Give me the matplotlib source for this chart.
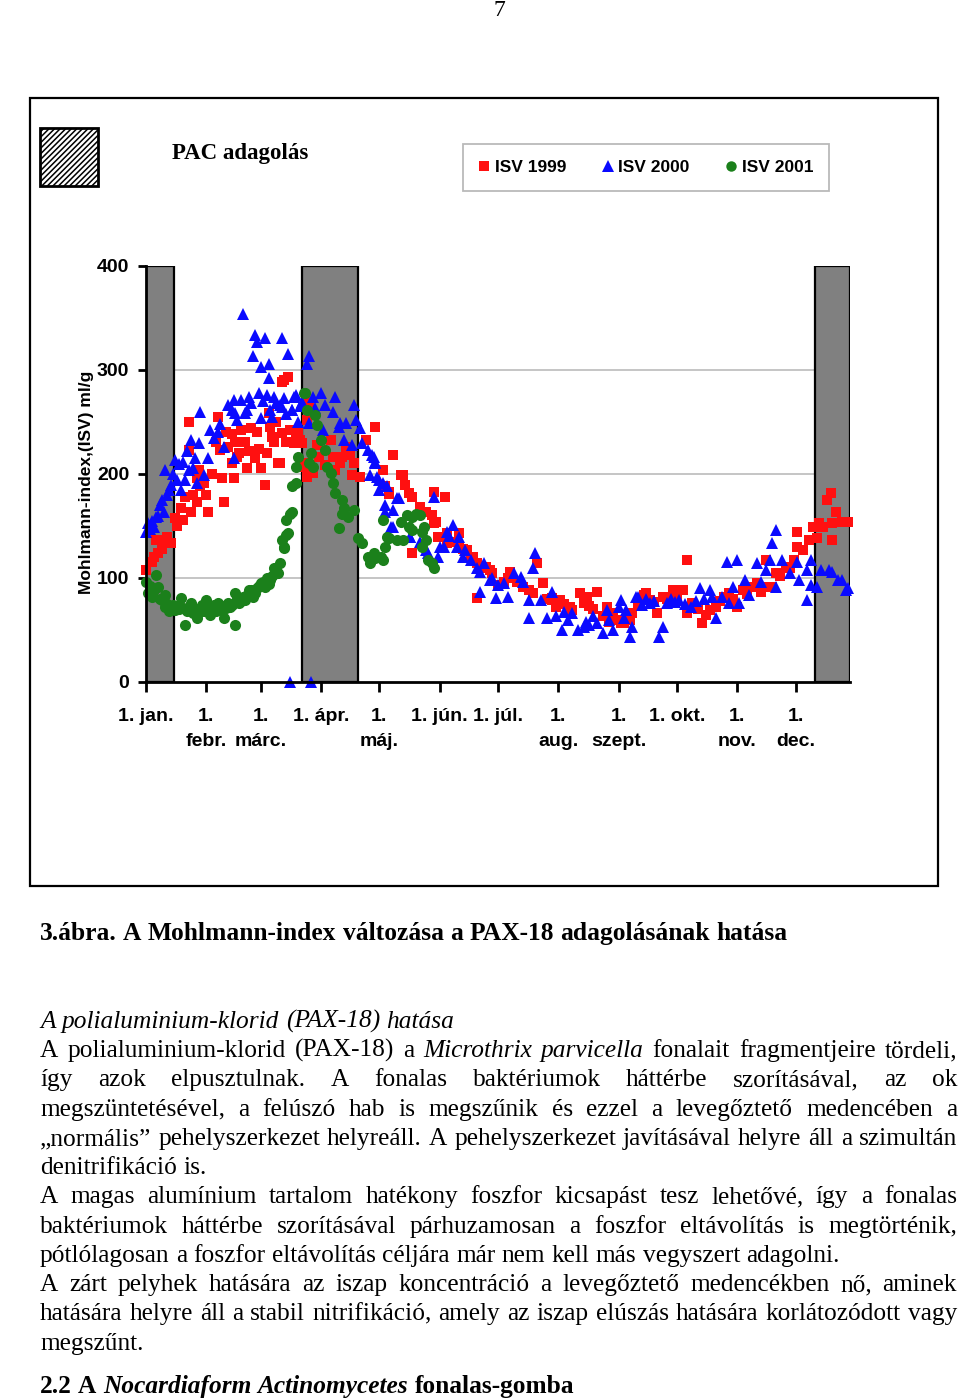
import matplotlib
matplotlib.use("Agg")
import matplotlib.pyplot as plt
from matplotlib.patches import Rectangle
from matplotlib.lines import Line2D

# ---------------- data ----------------
month_days = [0, 31, 59, 90, 120, 151, 181, 212, 243, 273, 304, 334]
month_labels = ["1. jan.", "1.\nfebr.", "1.\nmárc.", "1. ápr.", "1.\nmáj.", "1. jún.",
                "1. júl.", "1.\naug.", "1.\nszept.", "1. okt.", "1.\nnov.", "1.\ndec."]
y_ticks = [0, 100, 200, 300, 400]
pac_periods = [(0, 14.5), (80, 109), (344, 362)]
series_labels = ["ISV 1999", "ISV 2000", "ISV 2001"]

isv1999_day = [0, 3, 6, 5, 10, 13, 11, 15, 19, 18, 23, 26, 31, 32, 40, 22, 22, 26, 27, 30, 36, 37, 38, 39, 42,
               44, 45, 46, 47, 49, 51, 52, 56, 54, 57, 59, 61, 63, 65, 68, 66, 70, 72, 75, 77, 78, 80, 82, 71,
               73, 70, 34, 41, 48, 58, 62, 64, 67, 44, 53, 28, 16, 8, 4, 20, 24,
               84, 83, 81, 83, 86, 89, 95, 96, 100, 101, 103, 107, 106, 110, 113, 118, 127, 132, 133, 135,
               137, 141, 148, 154, 144, 148, 150, 155, 88, 92, 97, 105, 69, 76, 74, 79, 123, 125, 131, 122,
               125, 137,
               147, 149, 155, 161, 167, 170, 170, 175, 178, 187, 184, 191, 194, 201, 204, 199, 209, 213, 218,
               223, 227, 232, 225, 219, 235, 238, 153, 161, 165, 168, 177, 209, 237, 244, 249, 240, 242, 246,
               228, 230, 215, 211, 206, 197, 186, 181, 173, 163, 158,
               250, 257, 259, 263, 271, 276, 278, 278, 286, 290, 293, 297, 300, 304, 307, 312, 317, 319, 322,
               324, 329, 333, 335, 335, 338, 341, 343, 346, 350, 352, 348, 353, 355, 353, 358, 361, 345,
               253, 256, 261, 266, 268, 273, 281, 284, 288, 295, 302, 309, 314, 316, 326, 331]
isv1999_val = [108, 115, 124, 137, 137, 134, 139, 158, 156, 167, 163, 173, 180, 163, 173, 223, 250, 196, 204,
               191, 231, 255, 223, 196, 226, 211, 196, 231, 216, 242, 231, 206, 215, 244, 240, 206, 189, 259,
               236, 211, 231, 239, 231, 242, 233, 240, 230, 207, 290, 293, 288, 200, 240, 220, 224, 220, 245,
               250, 238, 222, 188, 150, 128, 120, 178, 180,
               269, 252, 211, 197, 201, 216, 233, 216, 211, 216, 226, 211, 199, 197, 233, 245, 218, 199, 189,
               182, 178, 168, 183, 178, 163, 153, 139, 143, 228, 209, 204, 218, 211, 230, 242, 233, 188, 181,
               199, 204, 183, 124,
               161, 154, 134, 129, 120, 114, 81, 111, 105, 106, 96, 96, 91, 114, 95, 86, 81, 79, 72, 86, 82,
               87, 76, 69, 63, 58, 139, 143, 127, 120, 108, 79, 72, 57, 60, 66, 60, 57, 73, 70, 75, 72, 80,
               88, 100, 93, 110, 128, 135,
               66, 86, 79, 66, 88, 88, 117, 66, 57, 69, 72, 82, 86, 72, 88, 91, 91, 117, 91, 105, 111, 117,
               144, 130, 127, 137, 149, 153, 175, 182, 149, 153, 163, 137, 154, 154, 138,
               75, 84, 77, 82, 80, 83, 76, 70, 64, 78, 80, 85, 95, 87, 102, 110]

isv2000_day = [0, 1, 4, 5, 7, 9, 11, 13, 15, 10, 16, 18, 20, 22, 23, 24, 26, 28, 30, 32, 33, 37, 40, 42, 46,
               47, 45, 49, 51, 53, 58, 62, 66, 69, 71, 65, 59, 75, 77, 78, 45,
               2, 3, 6, 8, 12, 14, 17, 19, 21, 25, 27, 35, 38, 44, 52, 54, 60, 64, 67, 72, 79,
               50, 56, 57, 61, 70, 55, 59, 63, 63, 73, 84, 83,
               76, 80, 70, 75, 86, 90, 97, 87, 92, 96, 107, 84, 100, 103, 99, 108, 110, 91, 102, 106, 111,
               114, 116, 118, 115, 119, 120, 122, 120, 124, 130, 123, 127, 123, 126, 136, 141, 144, 148,
               150, 153, 155,
               74, 85,
               117, 118, 129, 127, 136, 145, 151, 158, 161, 164, 167, 172, 174, 172, 177, 181, 180, 186, 189,
               193, 194, 200, 199, 197, 203, 209, 211, 206, 215, 214, 222, 225, 230, 235, 237, 240, 243, 197,
               249, 244, 247, 252, 217, 219, 226, 228, 232, 238, 246, 184, 178, 170, 163, 160, 156,
               250, 253, 259, 264, 266, 268, 274, 280, 285, 290, 291, 293, 299, 304, 300, 302, 305, 308, 310,
               314, 316, 319, 321, 322, 324, 324, 327, 331, 335, 336, 340, 340, 342, 342, 345, 347, 351, 353,
               356, 358, 361, 360, 255, 257, 261, 270, 272, 277, 283, 287, 296]
isv2000_val = [144, 153, 149, 159, 170, 163, 180, 189, 213, 204, 194, 185, 194, 204, 233, 206, 191, 260, 199,
               215, 242, 240, 226, 266, 259, 252, 271, 271, 259, 274, 278, 276, 274, 266, 273, 255, 254, 262,
               276, 250, 215,
               147, 155, 160, 175, 185, 200, 210, 212, 222, 215, 230, 235, 248, 262, 262, 268, 270, 262, 268,
               258, 265,
               354, 334, 327, 331, 331, 313, 303, 306, 292, 315, 313, 306,
               274, 269, 264, 262, 274, 278, 274, 263, 266, 260, 266, 249, 249, 249, 245, 252, 244, 242, 233,
               228, 230, 223, 218, 211, 199, 197, 194, 191, 185, 188, 177, 170, 165, 163, 149, 139, 135, 127,
               178, 120, 130, 144,
               0, 0,
               216, 212, 177, 149, 139, 124, 130, 151, 139, 127, 117, 106, 114, 87, 98, 93, 81, 82, 105, 101,
               96, 124, 110, 79, 79, 87, 63, 62, 67, 50, 50, 53, 63, 47, 69, 50, 72, 62, 43, 79, 69, 82, 60,
               66, 58, 55, 57, 60, 62, 95, 100, 110, 120, 130, 140,
               53, 82, 76, 43, 53, 76, 79, 72, 90, 88, 82, 62, 115, 117, 76, 91, 76, 98, 84, 114, 96, 108,
               117, 134, 146, 91, 117, 105, 115, 98, 108, 79, 117, 93, 91, 108, 108, 106, 98, 98, 90, 88, 74,
               80, 78, 80, 77, 75, 78, 80, 82]

isv2001_day = [0, 1, 5, 6, 3, 8, 10, 10, 13, 15, 18, 19, 20, 23, 24, 26, 28, 31, 33, 33, 37, 40, 41, 43, 46,
               46, 48, 51, 53, 56, 59, 61, 64, 66, 68, 69, 71, 73, 70, 74, 72, 75, 77, 77, 78, 81,
               2, 4, 7, 9, 11, 12, 14, 16, 17, 21, 22, 25, 27, 29, 30, 32, 34, 35, 36, 38, 39, 42, 44, 47, 49,
               50, 52, 54, 55, 57, 58, 60, 62, 63, 65, 67,
               82, 83, 87, 88, 90, 92, 85, 84, 86, 93, 95, 96, 97, 101, 102, 101, 104, 107, 99, 75, 72, 71,
               109, 111, 114, 115, 118, 121, 123, 125, 129, 122, 131, 134, 137, 139, 135, 137, 142, 144, 142,
               147, 148, 145, 117, 122, 124, 132, 141, 143]
isv2001_val = [96, 86, 103, 91, 82, 79, 84, 72, 72, 69, 81, 71, 55, 76, 66, 62, 69, 79, 69, 64, 76, 62, 71, 72,
               86, 55, 76, 79, 88, 86, 95, 91, 98, 110, 105, 114, 129, 143, 137, 162, 156, 188, 191, 207, 216,
               278,
               92, 88, 80, 78, 75, 68, 74, 73, 70, 68, 72, 70, 67, 74, 68, 72, 70, 74, 68, 70, 73, 76, 74, 80,
               78, 82, 84, 88, 82, 90, 92, 96, 100, 94, 102, 108,
               278, 262, 257, 247, 233, 223, 220, 211, 207, 207, 201, 191, 182, 175, 167, 162, 159, 165, 148,
               163, 141, 130, 138, 134, 120, 114, 119, 120, 130, 138, 137, 156, 154, 161, 159, 162, 149, 146,
               144, 137, 130, 114, 110, 117, 124, 117, 139, 137, 161, 149]

# ---------------- figure ----------------
W, H = 960, 1400
plt.rcParams['hatch.linewidth'] = 1.1
fig = plt.figure(figsize=(W / 100, H / 100), dpi=100)
fig.patch.set_facecolor('white')


def fx(x):
    return x / W


def fy(y):
    return 1 - y / H


SANS = ['Liberation Sans', 'DejaVu Sans']
SERIF = ['Liberation Serif', 'DejaVu Serif']

# page number
fig.text(fx(499), fy(11), "7", family=SERIF, fontsize=17, ha='center', va='center')

# outer frame
fig.patches.append(Rectangle((fx(30), fy(886)), fx(908), (886 - 98) / H, transform=fig.transFigure,
                             fill=False, edgecolor='black', lw=1.6))

# hatched PAC key
fig.patches.append(Rectangle((fx(40), fy(186)), fx(58), 58 / H, transform=fig.transFigure,
                             facecolor='white', edgecolor='black', hatch='//////', lw=2))
fig.text(fx(172), fy(153), "PAC adagolás", family=SERIF, weight='bold', fontsize=16.5,
         ha='left', va='center')

# ---------------- chart ----------------
ax = fig.add_axes([fx(146), fy(682), fx(704), 416 / H])
ax.set_xlim(0, 362)
ax.set_ylim(0, 400)
for v in y_ticks[1:-1]:
    ax.axhline(v, color='#c0c0c0', lw=1.3, zorder=0.5)
for a, b in pac_periods:
    ax.axvspan(a, b, facecolor='#808080', edgecolor='black', lw=1.6, zorder=1)

red, blue, green = '#ff1010', '#0a0aff', '#1b801b'
ax.plot(isv1999_day, isv1999_val, 's', color=red, ms=7.8, mew=0, zorder=3, clip_on=False)
ax.plot(isv2000_day, isv2000_val, '^', color=blue, ms=8.8, mew=0, zorder=4, clip_on=False)
ax.plot(isv2001_day, isv2001_val, 'o', color=green, ms=8.0, mew=0, zorder=5, clip_on=False)

for s in ['top', 'right']:
    ax.spines[s].set_visible(False)
for s in ['left', 'bottom']:
    ax.spines[s].set_linewidth(2)
    ax.spines[s].set_zorder(6)

ax.set_xticks(month_days)
ax.set_xticklabels(month_labels, fontfamily=SANS, fontweight='bold', fontsize=14)
for lbl in ax.get_xticklabels():
    lbl.set_linespacing(1.55)
ax.set_yticks(y_ticks)
ax.set_yticklabels([str(v) for v in y_ticks], fontfamily=SANS, fontweight='bold', fontsize=14)
ax.tick_params(axis='x', direction='out', length=7, width=2, pad=12)
ax.tick_params(axis='y', direction='out', length=6, width=2, pad=6)
ax.set_ylabel("Mohlmann-index,(ISV) ml/g", fontfamily=SANS, fontweight='bold', fontsize=12.5, va='center')
ax.yaxis.set_label_coords((87 - 146) / 704, (682 - 482) / 416)

handles = [Line2D([], [], ls='', marker='s', color=red, ms=7.5, mew=0),
           Line2D([], [], ls='', marker='^', color=blue, ms=8.5, mew=0),
           Line2D([], [], ls='', marker='o', color=green, ms=7.5, mew=0)]
leg = fig.legend(handles, series_labels, loc='center', bbox_to_anchor=(fx(646), fy(167.5)), ncol=3,
                 frameon=True, fancybox=False, edgecolor='#a8a8a8',
                 prop={'family': SANS, 'weight': 'bold', 'size': 12.5},
                 handlelength=0.6, handletextpad=0.3, columnspacing=2.1, borderpad=0.9)
leg.get_frame().set_linewidth(1.3)

# ---------------- text below ----------------
renderer = fig.canvas.get_renderer()


def measure(s, **kw):
    t = fig.text(0, 0, s, **kw)
    w = t.get_window_extent(renderer).width
    t.remove()
    return w


def fit_size(s, target, **kw):
    w = measure(s, fontsize=10, **kw)
    return 10 * target / w


body_size = fit_size("pótlólagosan a foszfor eltávolítás céljára már nem kell más vegyszert adagolni.",
                     803, family=SERIF)
cap_size = fit_size("3.ábra. A Mohlmann-index változása a PAX-18 adagolásának hatása", 746,
                    family=SERIF, weight='bold')

STY = {
    'n': dict(family=SERIF, fontsize=body_size),
    'i': dict(family=SERIF, fontsize=body_size, style='italic'),
    'b': dict(family=SERIF, fontsize=body_size, weight='bold'),
    'bi': dict(family=SERIF, fontsize=body_size, weight='bold', style='italic'),
    'cap': dict(family=SERIF, fontsize=cap_size, weight='bold'),
}


def draw_line(segments, y_base, justify, left=40, right=957):
    words = []
    for text, st in segments:
        for w in text.split():
            words.append((w, st))
    widths = [measure(w, **STY[st]) for w, st in words]
    st0 = words[0][1]
    space = measure("n n", **STY[st0]) - measure("nn", **STY[st0])
    if justify and len(words) > 1:
        gap = (right - left - sum(widths)) / (len(words) - 1)
    else:
        gap = space
    x = left
    for (w, st), wd in zip(words, widths):
        fig.text(fx(x), fy(y_base), w, ha='left', va='baseline', **STY[st])
        x += wd + gap


draw_line([("3.ábra. A Mohlmann-index változása a PAX-18 adagolásának hatása", 'cap')], 940, False)

lines = [
    (1028, False, [("A polialuminium-klorid (PAX-18) hatása", 'i')]),
    (1057, True, [("A polialuminium-klorid (PAX-18) a", 'n'), ("Microthrix parvicella", 'i'),
                  ("fonalait fragmentjeire tördeli,", 'n')]),
    (1086, True, [("így azok elpusztulnak. A fonalas baktériumok háttérbe szorításával, az ok", 'n')]),
    (1116, True, [("megszüntetésével, a felúszó hab is megszűnik és ezzel a levegőztető medencében a", 'n')]),
    (1145, True, [("„normális” pehelyszerkezet helyreáll. A pehelyszerkezet javításával helyre áll a szimultán",
                   'n')]),
    (1174, False, [("denitrifikáció is.", 'n')]),
    (1203, True, [("A magas alumínium tartalom hatékony foszfor kicsapást tesz lehetővé, így a fonalas", 'n')]),
    (1233, True, [("baktériumok háttérbe szorításával párhuzamosan a foszfor eltávolítás is megtörténik,", 'n')]),
    (1262, False, [("pótlólagosan a foszfor eltávolítás céljára már nem kell más vegyszert adagolni.", 'n')]),
    (1291, True, [("A zárt pelyhek hatására az iszap koncentráció a levegőztető medencékben nő, aminek", 'n')]),
    (1320, True, [("hatására helyre áll a stabil nitrifikáció, amely az iszap elúszás hatására korlátozódott vagy",
                   'n')]),
    (1350, False, [("megszűnt.", 'n')]),
    (1393, False, [("2.2 A", 'b'), ("Nocardiaform Actinomycetes", 'bi'), ("fonalas-gomba", 'b')]),
]
for yb, just, segs in lines:
    draw_line(segs, yb, just)

fig.savefig("out.png", dpi=100)
